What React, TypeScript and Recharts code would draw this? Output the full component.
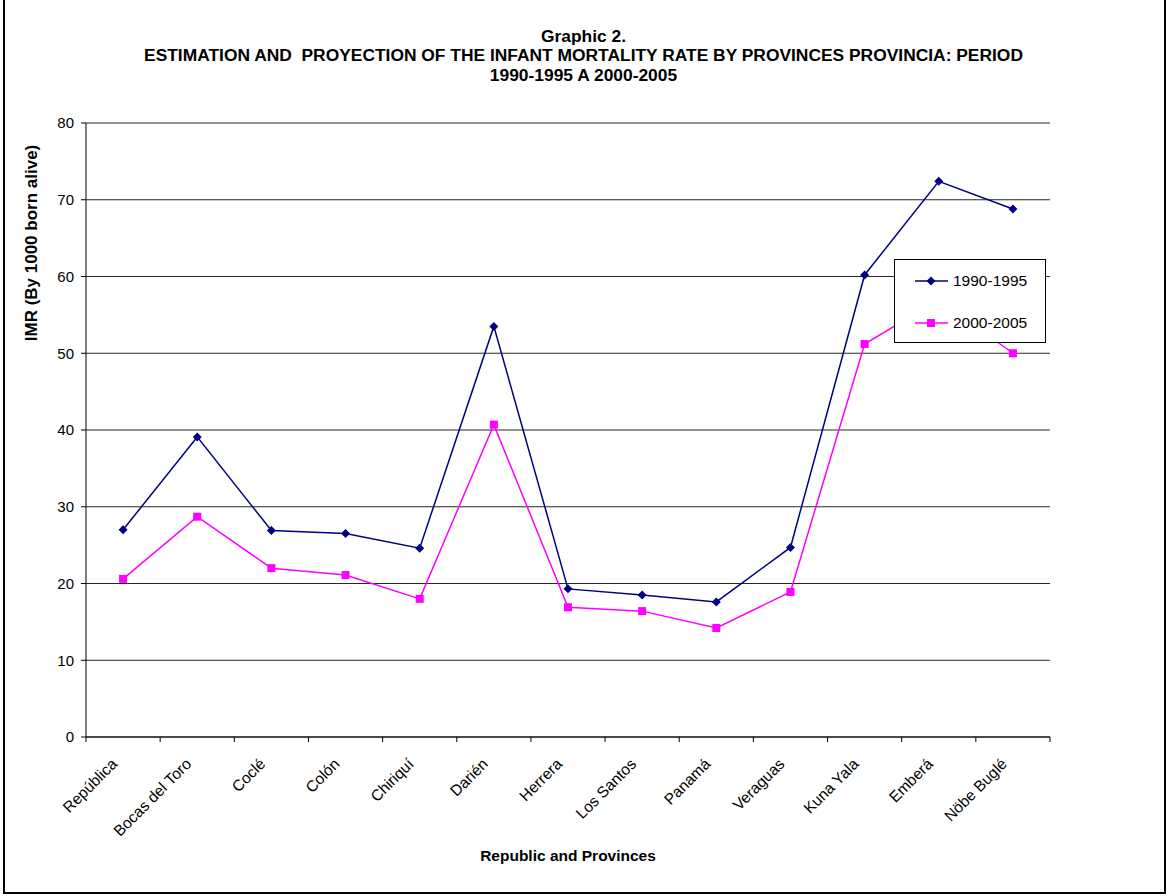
import { CartesianGrid, Legend, Line, LineChart, XAxis, YAxis } from 'recharts';

// Infant mortality rate per 1000 born alive.
const PROVINCES = [
  'República',
  'Bocas del Toro',
  'Coclé',
  'Colón',
  'Chiriquí',
  'Darién',
  'Herrera',
  'Los Santos',
  'Panamá',
  'Veraguas',
  'Kuna Yala',
  'Emberá',
  'Nöbe Buglé',
];
const IMR_1990_1995 = [27.0, 39.1, 26.9, 26.5, 24.6, 53.5, 19.3, 18.5, 17.6, 24.7, 60.2, 72.4, 68.8];
const IMR_2000_2005 = [20.6, 28.7, 22.0, 21.1, 18.0, 40.7, 16.9, 16.4, 14.2, 18.9, 51.2, 57.0, 50.0];
const Y_TICKS = [0, 10, 20, 30, 40, 50, 60, 70, 80];

const TITLE = [
  'Graphic 2.',
  'ESTIMATION AND  PROYECTION OF THE INFANT MORTALITY RATE BY PROVINCES PROVINCIA: PERIOD',
  '1990-1995 A 2000-2005',
];

const NAVY = '#000080';
const MAGENTA = '#FF00FF';
const FONT = '"Liberation Sans", Arial, sans-serif';

const data = PROVINCES.map((name, i) => ({
  name,
  a: IMR_1990_1995[i],
  b: IMR_2000_2005[i],
}));

const Diamond = ({ cx, cy, s = 4.5, fill = NAVY }: any) => (
  <path d={`M${cx},${cy - s}L${cx + s},${cy}L${cx},${cy + s}L${cx - s},${cy}Z`} fill={fill} />
);
const Square = ({ cx, cy, s = 4, fill = MAGENTA }: any) => (
  <rect x={cx - s} y={cy - s} width={s * 2} height={s * 2} fill={fill} />
);

const diamondDot = (p: any) => (
  <g key={`d-${p.index}`}>{p.cx != null && <Diamond cx={p.cx} cy={p.cy} />}</g>
);
const squareDot = (p: any) => (
  <g key={`s-${p.index}`}>{p.cx != null && <Square cx={p.cx} cy={p.cy} />}</g>
);

// label rotated 45deg plus Excel-style tick marks on the category boundaries
const CategoryTick = ({ x, y, payload, index }: any) => {
  const half = payload?.offset ?? 0;
  const tx = x - 5;
  const ty = y + 28;
  return (
    <g>
      {half > 0 && <line x1={x - half} x2={x - half} y1={y} y2={y + 5} stroke="#000" />}
      {half > 0 && index === PROVINCES.length - 1 && (
        <line x1={x + half} x2={x + half} y1={y} y2={y + 5} stroke="#000" />
      )}
      <text
        x={tx}
        y={ty}
        transform={`rotate(-45 ${tx} ${ty})`}
        textAnchor="end"
        fontSize={15.5}
        fontFamily={FONT}
        fill="#000"
      >
        {payload.value}
      </text>
    </g>
  );
};

const LegendBox = () => (
  <div
    style={{
      width: 152,
      height: 84,
      boxSizing: 'border-box',
      border: '1px solid #000',
      background: '#fff',
      fontFamily: FONT,
      fontSize: 15.5,
      position: 'relative',
    }}
  >
    {[
      { label: '1990-1995', color: NAVY, top: 21, marker: <Diamond cx={16} cy={8} /> },
      { label: '2000-2005', color: MAGENTA, top: 63, marker: <Square cx={16} cy={8} /> },
    ].map((it) => (
      <div key={it.label} style={{ position: 'absolute', left: 20, top: it.top - 8, height: 16, display: 'flex', alignItems: 'center' }}>
        <svg width={33} height={16} style={{ display: 'block' }}>
          <line x1={0} y1={8} x2={33} y2={8} stroke={it.color} strokeWidth={1.5} />
          {it.marker}
        </svg>
        <span style={{ marginLeft: 5, lineHeight: '16px' }}>{it.label}</span>
      </div>
    ))}
  </div>
);

export default function App() {
  return (
    <div
      style={{
        position: 'absolute',
        left: 0,
        top: 0,
        width: 1167,
        height: 896,
        background: '#fff',
        overflow: 'hidden',
        fontFamily: FONT,
        color: '#000',
      }}
    >
      <div
        style={{
          position: 'absolute',
          left: 3,
          top: -4,
          width: 1163,
          height: 898,
          boxSizing: 'border-box',
          border: '2px solid #000',
        }}
      />
      {TITLE.map((t, i) => (
        <div
          key={i}
          style={{
            position: 'absolute',
            left: 0,
            width: 1167,
            top: [27, 46, 66][i],
            textAlign: 'center',
            fontWeight: 'bold',
            fontSize: 17.4,
            lineHeight: '19px',
            whiteSpace: 'pre',
          }}
        >
          {t}
        </div>
      ))}

      <div style={{ position: 'absolute', left: 0, top: 0 }}>
        <LineChart width={1167} height={896} data={data} margin={{ top: 123, right: 117, bottom: 59, left: 46 }}>
          <CartesianGrid vertical={false} stroke="#000" strokeOpacity={0.85} />
          <XAxis
            dataKey="name"
            scale="band"
            interval={0}
            tickLine={false}
            tickSize={0}
            tickMargin={0}
            axisLine={{ stroke: '#000' }}
            height={100}
            tick={<CategoryTick />}
          />
          <YAxis
            domain={[0, 80]}
            ticks={Y_TICKS}
            interval={0}
            width={40}
            tickSize={5}
            tickMargin={7}
            stroke="#000"
            tick={{ fill: '#000', fontSize: 15, fontFamily: FONT }}
          />
          <YAxis yAxisId="frame" orientation="right" domain={[0, 80]} width={0} tick={false} tickLine={false} stroke="#000" />
          <Legend
            layout="vertical"
            align="center"
            verticalAlign="middle"
            content={<LegendBox />}
            wrapperStyle={{ position: 'absolute', left: 894, top: 259, width: 152, height: 84 }}
          />
          <Line
            dataKey="a"
            name="1990-1995"
            stroke={NAVY}
            strokeWidth={1.5}
            dot={diamondDot}
            activeDot={false}
            isAnimationActive={false}
          />
          <Line
            dataKey="b"
            name="2000-2005"
            stroke={MAGENTA}
            strokeWidth={1.5}
            dot={squareDot}
            activeDot={false}
            isAnimationActive={false}
          />
        </LineChart>
      </div>

      <div
        style={{
          position: 'absolute',
          left: 32,
          top: 243,
          transform: 'translate(-50%, -50%) rotate(-90deg)',
          whiteSpace: 'nowrap',
          fontWeight: 'bold',
          fontSize: 17,
        }}
      >
        IMR (By 1000 born alive)
      </div>
      <div
        style={{
          position: 'absolute',
          left: 0,
          width: 1136,
          top: 846,
          textAlign: 'center',
          fontWeight: 'bold',
          fontSize: 15.5,
          lineHeight: '20px',
        }}
      >
        Republic and Provinces
      </div>
    </div>
  );
}
